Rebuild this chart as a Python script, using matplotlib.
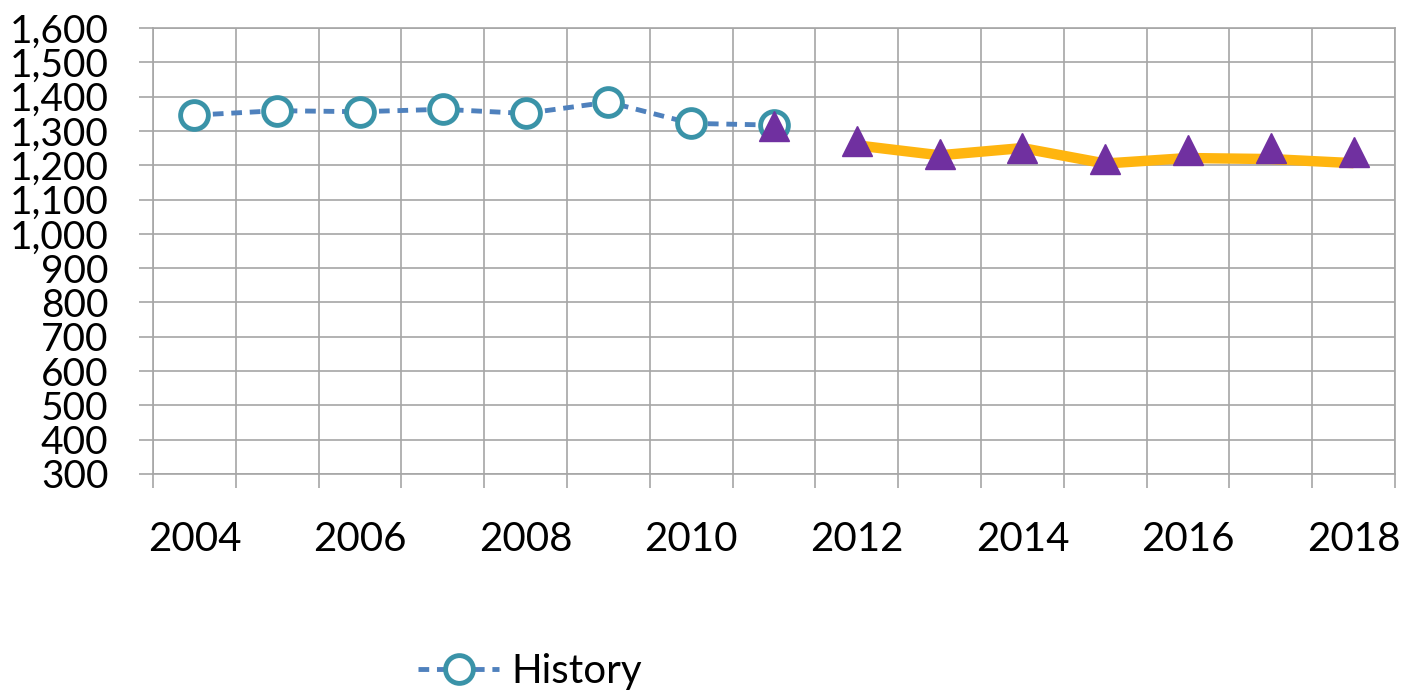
import matplotlib
matplotlib.use("Agg")
from matplotlib import pyplot as plt
import numpy as np

plt.rcParams['font.family'] = ['Lato', 'DejaVu Sans']

# data
years = list(range(2004, 2019))
hist_years = list(range(2004, 2012))
history = [1346, 1359, 1356, 1363, 1351, 1384, 1322, 1317]
line_years = list(range(2012, 2019))
forecast_line = [1258, 1229, 1250, 1205, 1221, 1218, 1206]
tri_years = list(range(2011, 2019))
forecast_pts = [1315, 1270, 1232, 1251, 1218, 1243, 1251, 1238]
yticks = list(range(300, 1700, 100))

grid_col = '#A6A6A6'

fig = plt.figure(figsize=(14.14, 6.98), dpi=100)
ax = fig.add_axes([153/1414, (698-474)/698, (1395-153)/1414, (474-28)/698])

idx = lambda ys: [y - years[0] for y in ys]

ax.plot(idx(line_years), forecast_line, color='#FFB50F', lw=7.5,
        solid_capstyle='butt', zorder=3)
ax.plot(idx(hist_years), history, color='#4F81BD', lw=3.5, ls=(0, (2.2, 1.6)),
        marker='o', ms=20, mfc='white', mec='#3A93A8', mew=3.5,
        label='History', zorder=4)
ax.plot(idx(tri_years), forecast_pts, ls='none', marker='^', ms=22,
        color='#7030A0', zorder=5)

ax.set_xlim(-0.5, len(years) - 0.5)
ax.set_ylim(300, 1600)
ax.set_yticks(yticks)
ax.set_yticklabels([f'{v:,}' for v in yticks])

# category labels every other year, gridlines at category borders
ax.set_xticks(idx(years[::2]))
ax.set_xticklabels([str(y) for y in years[::2]])
ax.set_xticks(np.arange(-0.5, len(years)), minor=True)
ax.tick_params(axis='x', which='major', length=0, pad=34, labelsize=29)
ax.tick_params(axis='x', which='minor', length=10, width=1.2, color=grid_col)
ax.tick_params(axis='y', length=10, width=1.2, color=grid_col, pad=22,
               labelsize=28)

ax.grid(True, axis='y', color=grid_col, lw=1.2)
ax.grid(True, axis='x', which='minor', color=grid_col, lw=1.2)
for s in ax.spines.values():
    s.set_color(grid_col)
    s.set_linewidth(1.2)
ax.set_axisbelow(True)

fig.legend(loc='center', bbox_to_anchor=(530/1414, 1 - 672/698), frameon=False,
           fontsize=29, handlelength=2.0, handletextpad=0.3)

fig.savefig('out.png', dpi=100)
